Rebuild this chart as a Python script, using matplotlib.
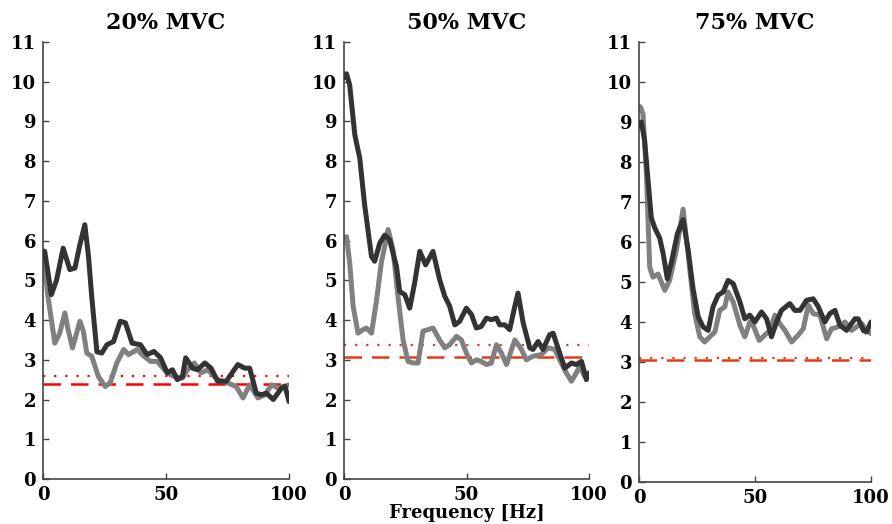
import matplotlib
matplotlib.use('Agg')
import matplotlib.pyplot as plt

# Panel titles and reference levels (dotted, dashed)
titles = ['20% MVC', '50% MVC', '75% MVC']
dotted_levels = [2.58, 3.38, 3.10]
dashed_levels = [2.40, 3.07, 3.06]
ref_colors = ['#ff0000', '#e43a12', '#e43a12']

# 20% MVC
f1_dark = [0, 0.7, 3.4, 5.5, 8.2, 10.9, 13, 15, 17, 18.5, 19.8, 21.9, 23.9, 26, 28.7,
           31.4, 33.5, 36.2, 39.6, 42.3, 45.1, 47.8, 50.5, 52.6, 54.6, 56.7, 58, 60.8,
           62.8, 65.8, 68.3, 71, 74.5, 79.2, 82, 84, 86.7, 88.8, 90.8, 93.6, 97, 98.4, 100]
v1_dark = [5.6, 5.73, 4.64, 5.0, 5.81, 5.27, 5.31, 5.9, 6.4, 5.6, 4.6, 3.2, 3.17, 3.38, 3.46,
           3.97, 3.93, 3.42, 3.38, 3.13, 3.21, 3.05, 2.67, 2.75, 2.5, 2.58, 3.05, 2.79,
           2.75, 2.92, 2.79, 2.46, 2.46, 2.88, 2.79, 2.79, 2.16, 2.12, 2.16, 2.0, 2.29, 2.33, 1.95]
f1_gray = [0, 2, 4.8, 6.8, 8.9, 10.2, 12, 15, 16.4, 17.8, 19.8, 22.5, 25.3, 27.3, 30, 32.8,
           34.8, 38.3, 41, 43.7, 46.4, 50.5, 53.3, 56.7, 58.7, 61.5, 64.2, 66.9, 71, 75,
           78.5, 81.3, 84, 87.4, 90.2, 92.9, 95.6, 100]
v1_gray = [5.75, 4.6, 3.42, 3.67, 4.18, 3.76, 3.3, 3.97, 3.72, 3.17, 3.09, 2.58, 2.33, 2.42,
           2.92, 3.26, 3.13, 3.26, 3.09, 2.96, 2.96, 2.67, 2.58, 2.54, 2.75, 2.92, 2.67,
           2.75, 2.5, 2.42, 2.33, 2.04, 2.37, 2.04, 2.12, 2.37, 2.29, 2.37]

# 50% MVC
f2_dark = [0, 1, 2.3, 4.4, 6.4, 8.4, 11.2, 12.5, 14.6, 16.6, 18.6, 21.4, 22.7, 24.8, 26.8,
           28.8, 30.9, 33.3, 36.3, 39, 41.1, 43.1, 45.2, 47.2, 49.9, 52, 54, 56, 58.1, 60.1,
           62.2, 63.5, 65.6, 67.6, 69.7, 71, 73.1, 75.8, 77.1, 79.2, 81.2, 83.9, 85.3, 88,
           90.1, 92.8, 94.8, 96.9, 98.2, 98.9, 100]
v2_dark = [10.1, 10.2, 9.92, 8.66, 8.08, 6.9, 5.6, 5.48, 5.94, 6.14, 6.02, 5.35, 4.72, 4.64,
           4.3, 4.93, 5.73, 5.39, 5.73, 5.02, 4.6, 4.35, 3.88, 3.97, 4.3, 4.14, 3.8, 3.84,
           4.05, 4.01, 4.05, 3.88, 3.88, 3.76, 4.35, 4.68, 3.93, 3.3, 3.26, 3.46, 3.26, 3.63,
           3.67, 3.17, 2.79, 2.92, 2.88, 2.96, 2.67, 2.5, 2.67]
f2_gray = [0, 1, 2.3, 3.7, 5.7, 7.8, 9.1, 11.2, 13.2, 15.2, 18, 20, 22, 24.1, 26.1, 28.2,
           30.2, 32.2, 34.3, 36.3, 39, 41.1, 43.1, 45.9, 47.9, 49.9, 52, 54, 56, 58.1, 60.1,
           62.2, 64.2, 66.3, 69.7, 72.4, 74.4, 77.1, 80.5, 83.3, 86, 88, 90.7, 92.8, 94.8,
           96.2, 98.2, 100]
v2_gray = [6.05, 6.1, 5.44, 4.35, 3.67, 3.76, 3.8, 3.67, 4.47, 5.44, 6.28, 5.77, 4.6, 3.5,
           2.96, 2.92, 2.92, 3.72, 3.76, 3.8, 3.5, 3.3, 3.38, 3.59, 3.5, 3.17, 2.92, 3.0,
           2.96, 2.88, 2.92, 3.38, 3.17, 2.88, 3.5, 3.26, 3.0, 3.09, 3.13, 3.3, 3.26, 3.0,
           2.67, 2.46, 2.67, 2.84, 2.58, 2.63]

# 75% MVC
f3_dark = [0, 1, 2.4, 3.9, 5.3, 6.8, 8.9, 10.4, 12.2, 14, 16.5, 19, 21.2, 23.3, 25.5, 27.6,
           29.8, 31.9, 34.1, 36.3, 38.4, 40.6, 43.5, 45.6, 47.8, 49.9, 52.8, 55, 57.1, 59.3,
           61.4, 65, 67.2, 69.4, 72.2, 75.1, 77.3, 80.1, 82.3, 84.5, 86.6, 89.5, 93.1, 94.5,
           96.7, 98.1, 100]
v3_dark = [8.9, 9.0, 8.54, 7.53, 6.6, 6.35, 6.1, 5.71, 5.08, 5.5, 6.2, 6.56, 5.79, 4.83,
           4.13, 3.88, 3.79, 4.38, 4.67, 4.75, 5.04, 4.96, 4.5, 4.08, 4.17, 4.0, 4.25, 4.08,
           3.63, 4.0, 4.29, 4.46, 4.29, 4.29, 4.54, 4.58, 4.38, 4.0, 4.21, 4.29, 3.92, 3.79,
           4.08, 4.08, 3.79, 3.75, 4.0]
f3_gray = [0, 0.6, 1.7, 3.2, 4.6, 6, 8.2, 11.1, 13.2, 16.1, 19, 21.2, 24, 26.2, 28.3, 30.5,
           32.7, 34.8, 37, 38.4, 40.6, 43.5, 45.6, 47.8, 49.2, 51.8, 54.2, 56.4, 58.6, 60.7,
           62.9, 65.8, 68.6, 70.8, 73, 75.1, 78, 80.9, 83, 85.9, 88.8, 91.7, 93.8, 96, 98.1, 100]
v3_gray = [9.3, 9.38, 9.2, 7.7, 5.37, 5.12, 5.2, 4.79, 5.04, 5.79, 6.82, 5.67, 4.21, 3.63,
           3.5, 3.63, 3.75, 4.29, 4.38, 4.75, 4.5, 3.92, 3.63, 4.0, 3.92, 3.54, 3.67, 3.79,
           4.17, 3.96, 3.79, 3.5, 3.67, 3.83, 4.42, 4.21, 4.17, 3.58, 3.83, 3.88, 4.0, 3.79,
           3.88, 3.96, 3.79, 3.71]

panels = [(f1_dark, v1_dark, f1_gray, v1_gray),
          (f2_dark, v2_dark, f2_gray, v2_gray),
          (f3_dark, v3_dark, f3_gray, v3_gray)]

plt.rcParams['font.family'] = ['DejaVu Serif']
plt.rcParams['font.weight'] = 'bold'

fig = plt.figure(figsize=(8.92, 5.24), dpi=100)
positions = [[0.0482, 0.0859, 0.2758, 0.834],
             [0.3857, 0.0859, 0.2747, 0.834],
             [0.7164, 0.0802, 0.2600, 0.8397]]

for i, pos in enumerate(positions):
    ax = fig.add_axes(pos)
    fd, vd, fg, vg = panels[i]
    ax.plot(fg, vg, color='#808080', lw=3.6, solid_capstyle='round', zorder=2)
    ax.plot(fd, vd, color='#333333', lw=3.6, solid_capstyle='round', zorder=3)
    ax.axhline(dotted_levels[i], color=ref_colors[i], lw=1.6, ls=(0, (1, 4)), zorder=1)
    ax.axhline(dashed_levels[i], color=ref_colors[i], lw=1.8, ls=(0, (7, 4)), zorder=1)

    ax.set_xlim(0, 100)
    ax.set_ylim(0, 11)
    ax.set_xticks([0, 50, 100])
    ax.set_yticks(range(0, 12))
    ax.spines['top'].set_visible(False)
    ax.spines['right'].set_visible(False)
    for s in ['left', 'bottom']:
        ax.spines[s].set_color('#444444')
        ax.spines[s].set_linewidth(1.2)
    ax.tick_params(direction='in', length=4, width=1, colors='#444444',
                   labelcolor='black', labelsize=13, pad=5)
    for lab in ax.get_xticklabels() + ax.get_yticklabels():
        lab.set_fontweight('bold')
    ax.set_title(titles[i], fontsize=16, fontweight='bold', pad=9)
    if i == 1:
        ax.set_xlabel('Frequency [Hz]', fontsize=13, fontweight='bold', labelpad=0)

fig.savefig('out.png', dpi=100)
